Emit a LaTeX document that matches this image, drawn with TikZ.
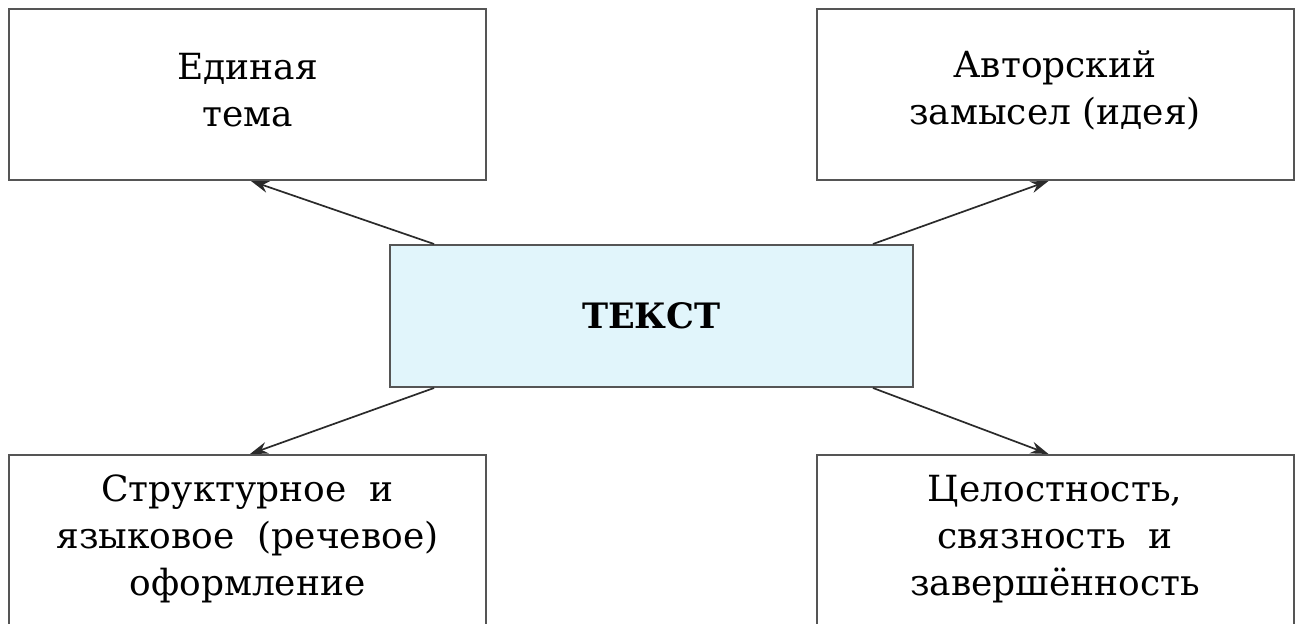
\documentclass[tikz,border=0pt]{standalone}
\usepackage{fontspec}
\setmainfont{DejaVu Serif}
\usetikzlibrary{arrows.meta,calc}
\definecolor{boxline}{HTML}{555555}
\definecolor{arrowcol}{HTML}{2A2A2A}
\definecolor{centerfill}{HTML}{E1F5FB}
\tikzset{
  outerbox/.style={draw=boxline, line width=1pt, fill=white, minimum width=238.5pt, minimum height=85.5pt, inner sep=0pt},
  boxtext/.style={align=center, inner sep=0pt, text=black, font=\fontsize{18}{23.5}\selectfont},
  centerbox/.style={draw=boxline, line width=1pt, fill=centerfill, minimum width=261.5pt, minimum height=71pt, align=center, inner sep=0pt,
    font=\fontsize{17.5}{23.5}\selectfont\bfseries, text=black},
  conn/.style={draw=arrowcol, line width=0.85pt, -{Stealth[length=9pt,width=6pt]}}
}
\begin{document}
\begin{tikzpicture}[x=0.5pt,y=-0.5pt]
\clip (0,0) rectangle (1295,624);
\fill[white] (0,0) rectangle (1295,624);
\node[outerbox] (tl) at (247.5,94.5) {};
\node[outerbox] (tr) at (1055,94.5) {};
\node[outerbox] (bl) at (247.5,540.5) {};
\node[outerbox] (br) at (1055,540.5) {};
\node[boxtext] (tltext) at ($(tl.center)+(0,-4.5)$) {Единая\\тема};
\node[boxtext] (trtext) at ($(tr.center)+(0,-4.5)$) {Авторский\\замысел (идея)};
\node[boxtext] (bltext) at ($(bl.center)+(0,-1.5)$) {Структурное\ \ и\\языковое\ \ (речевое)\\оформление};
\node[boxtext] (brtext) at ($(br.center)+(0,-1.5)$) {Целостность,\\связность\ \ и\\завершённость};
\node[centerbox] (c) at (651.5,316) {ТЕКСТ};
\draw[conn] ($(c.north west)+(45,0)$) -- ($(tl.south west)+(243,0)$);
\draw[conn] ($(c.north east)+(-41,0)$) -- ($(tr.south west)+(233,0)$);
\draw[conn] ($(c.south west)+(45,0)$) -- ($(bl.north west)+(242,0)$);
\draw[conn] ($(c.south east)+(-41,0)$) -- ($(br.north west)+(233,0)$);
\end{tikzpicture}
\end{document}
